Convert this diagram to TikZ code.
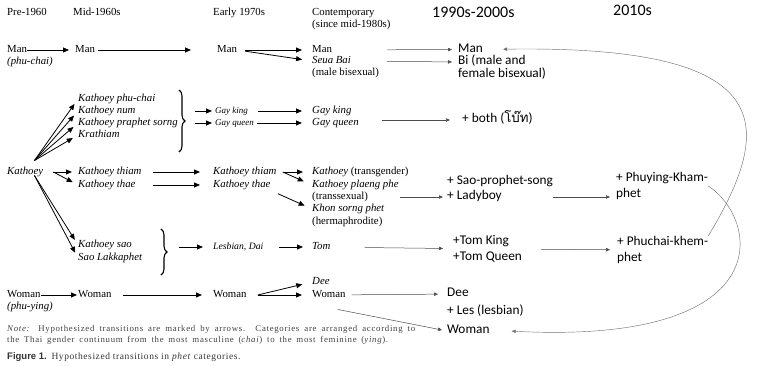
\documentclass[tikz,border=0pt]{standalone}
\usepackage{fontspec}
\setmainfont{Liberation Serif}
\setsansfont{Liberation Sans}
\newfontfamily\modfont{Carlito}
\newfontfamily\thaifont[Script=Thai]{Loma}
\newfontfamily\notefont[LetterSpace=6]{Liberation Serif}
\newfontfamily\notewidefont[LetterSpace=8]{Liberation Serif}
\usetikzlibrary{arrows.meta,positioning,decorations.pathreplacing}

\begin{document}
\begin{tikzpicture}[x=1pt,y=-1pt,
  lbl/.style={anchor=west, inner sep=0pt, text height=8pt, text depth=2.5pt, font=\fontsize{10.8}{13}\selectfont},
  ilbl/.style={lbl, font=\fontsize{10.8}{13}\selectfont\itshape},
  sml/.style={font=\fontsize{9}{11}\selectfont\itshape},
  mlbl/.style={anchor=west, inner sep=0pt, text height=9pt, text depth=3pt, font=\modfont\fontsize{13.3}{16.5}\selectfont},
  mlbltwo/.style={anchor=west, inner sep=0pt, align=left, font=\modfont\fontsize{13.3}{16.5}\selectfont},
  mhdr/.style={mlbl, font=\modfont\fontsize{16}{19}\selectfont},
  curly/.style={decorate, decoration={brace, amplitude=6pt, aspect=.5}, line width=1.1pt},
  notetxt/.style={anchor=west, inner sep=0pt, text=black!75, font=\notewidefont\fontsize{8.8}{10}\selectfont},
  arr/.style={-{Triangle[length=6pt,width=5pt]}, line width=.8pt},
  marr/.style={-{Triangle[length=4pt,width=3.4pt]}, line width=.5pt, black!70},
  loop/.style={-{Triangle[length=4pt,width=3.4pt]}, line width=.45pt, black!55}]
\useasboundingbox (0,0) rectangle (758,366);

% headers
\node[lbl]  (hpre)   at (7,13)   {Pre-1960};
\node[lbl]  (hmid)   at (73,13)  {Mid-1960s};
\node[lbl]  (hearly) at (213,13) {Early 1970s};
\node[lbl]  (hcon)   at (312,13) {Contemporary};
\node[lbl]  (hcon2)  at (312,25) {(since mid-1980s)};
\node[mhdr] (hnew)   at (432,15) {1990s-2000s};
\node[mhdr] (hlast)  at (613,13) {2010s};

% man
\node[lbl]  (preman)   at (7,50)   {Man};
\node[ilbl] (prechai)  at (7,62)   {(phu-chai)};
\node[lbl]  (midman)   at (75,50)  {Man};
\node[lbl]  (earlyman) at (217,50) {Man};
\node[lbl]  (conman)   at (312,50) {Man};
\node[ilbl] (conseua)  at (312,61) {Seua Bai};
\node[lbl]  (conbisex) at (312,73) {(male bisexual)};
\node[mlbl] (newman)   at (458,49.5) {Man};
\node[mlbl] (newbi)    at (458,62) {Bi (male and};
\node[mlbl] (newbi2)   at (458,75) {female bisexual)};

% kathoey, upper group
\node[ilbl] (kpc)   at (78,99)  {Kathoey phu-chai};
\node[ilbl] (knum)  at (78,111) {Kathoey num};
\node[ilbl] (kps)   at (78,123) {Kathoey praphet sorng};
\node[ilbl] (krath) at (78,135) {Krathiam};
\coordinate (brace1top) at (179,90);
\coordinate (brace1bot) at (179,152);
\coordinate (brace1)    at (185,121);
\node[ilbl, sml] (egk) at (215,111) {Gay king};
\node[ilbl, sml] (egq) at (215,123) {Gay queen};
\node[ilbl] (cgk)   at (312,111) {Gay king};
\node[ilbl] (cgq)   at (312,123) {Gay queen};
\node[mlbl] (newboth) at (462,120) {+ both ({\thaifont โบ๊ท})};

% kathoey, middle group
\node[ilbl] (kath)    at (7,172)   {Kathoey};
\node[ilbl] (mthiam)  at (78,172)  {Kathoey thiam};
\node[ilbl] (mthae)   at (78,185)  {Kathoey thae};
\node[ilbl] (ethiam)  at (213,172) {Kathoey thiam};
\node[ilbl] (ethae)   at (213,185) {Kathoey thae};
\node[lbl]  (ctrans)  at (312,172) {\textit{Kathoey} (transgender)};
\node[ilbl] (cplaeng) at (312,185) {Kathoey plaeng phe};
\node[lbl]  (ctsex)   at (312,197) {(transsexual)};
\node[ilbl] (ckhon)   at (312,209) {Khon sorng phet};
\node[lbl]  (cherm)   at (312,222) {(hermaphrodite)};
\node[mlbl] (newsao)  at (447,182) {+ Sao-prophet-song};
\node[mlbl] (newlady) at (447,197) {+ Ladyboy};
\node[mlbltwo] (newying) at (616,186) {+ Phuying-Kham-\\phet};

% kathoey, lower group
\node[ilbl] (ksao)  at (78,245)  {Kathoey sao};
\node[ilbl] (klak)  at (78,258)  {Sao Lakkaphet};
\coordinate (brace2top) at (161,229);
\coordinate (brace2bot) at (161,275);
\coordinate (brace2)    at (167,252);
\node[ilbl, font=\fontsize{9.7}{12}\selectfont\itshape] (elesb) at (213,247) {Lesbian, Dai};
\node[ilbl] (ctom)  at (312,247) {Tom};
\node[mlbltwo] (newtom)  at (453,249) {+Tom King\\+Tom Queen};
\node[mlbltwo] (newchai) at (617,250) {+ Phuchai-khem-\\phet};

% woman
\node[lbl]  (prewoman)   at (7,295)   {Woman};
\node[ilbl] (preying)    at (7,307)   {(phu-ying)};
\node[lbl]  (midwoman)   at (78,295)  {Woman};
\node[lbl]  (earlywoman) at (213,295) {Woman};
\node[ilbl] (condee)     at (312,282) {Dee};
\node[lbl]  (conwoman)   at (312,295) {Woman};
\node[mlbl] (newdee)     at (447,294) {Dee};
\node[mlbl] (newles)     at (447,311) {+ Les (lesbian)};
\node[mlbl] (newwoman)   at (447,330) {Woman};

% note and caption
\node[notetxt] (note)  at (7,329) {\makebox[408pt][s]{\textit{Note:} Hypothesized transitions are marked by arrows. Categories are arranged according to}};
\node[notetxt] (note2) at (7,340) {\makebox[381pt][s]{the Thai gender continuum from the most masculine (\textit{chai}) to the most feminine (\textit{ying}).}};
\node[notetxt, text=black!80, font=\notefont\fontsize{9.5}{11}\selectfont] (caption) at (7,357) {{\sffamily\bfseries Figure 1.}\enspace Hypothesized transitions in \textit{phet} categories.};

\coordinate (kathup)    at ([xshift=-9pt,yshift=6pt]kath.north east);
\coordinate (kathdown)  at ([xshift=-9pt,yshift=2pt]kath.south east);
\coordinate (kathmid)   at ([xshift=10pt]kath.east);
\coordinate (ethiamend) at ([xshift=6pt]ethiam.east);
\coordinate (ewomanend) at ([xshift=11pt]earlywoman.east);

% braces
\draw[curly] (brace1top) -- (brace1bot);
\draw[curly] (brace2top) -- (brace2bot);

% Edges
\draw[arr, shorten >=6pt] (preman) -- (midman);
\draw[arr, shorten <=3pt, shorten >=26pt] (midman) -- (earlyman);
\draw[arr, shorten <=8pt, shorten >=10pt] (earlyman) -- (conman);
\draw[arr, shorten <=8pt, shorten >=10pt] (earlyman.east) -- (conseua.west);
\draw[marr, shorten <=55pt, shorten >=6pt] (conman) -- (newman);
\draw[marr, shorten <=36pt, shorten >=6pt] (conseua.east) -- (newbi.west);

\foreach \t in {kpc,knum,kps,krath}
  \draw[arr, shorten >=6pt] (kathup) -- (\t.west);
\foreach \t in {mthiam,mthae}
  \draw[arr, shorten >=6pt] (kathmid) -- (\t.west);
\foreach \t in {ksao,klak}
  \draw[arr, shorten >=6pt] (kathdown) -- (\t.west);

\draw[arr, shorten <=10pt, shorten >=3pt] (brace1 |- egk) -- (egk);
\draw[arr, shorten <=10pt, shorten >=3pt] (brace1 |- egq) -- (egq);
\draw[arr, shorten <=10pt, shorten >=10pt] (egk) -- (cgk);
\draw[arr, shorten <=3pt, shorten >=10pt] (egq) -- (cgq);
\draw[marr, shorten <=23pt, shorten >=12pt] (cgq.east |- newboth) -- (newboth);

\draw[arr, shorten <=11pt, shorten >=13pt] (mthiam) -- (ethiam);
\draw[arr, shorten <=17pt, shorten >=13pt] (mthae) -- (ethae);
\draw[arr, shorten >=9pt] (ethiamend) -- (ctrans.west);
\draw[arr, shorten >=9pt] (ethiamend) -- (cplaeng.west);
\draw[arr, shorten <=8pt, shorten >=8pt] (ethae.south east) -- (ckhon.west);
\draw[marr, shorten <=32pt, shorten >=4pt] (ctsex) -- (newlady);
\draw[marr, shorten <=51pt, shorten >=6pt] (newlady) -- (newying.west |- newlady);

\draw[arr, shorten <=12pt, shorten >=10pt] (brace2 |- elesb) -- (elesb);
\draw[arr, shorten <=15pt, shorten >=9pt] (elesb) -- (ctom);
\draw[marr, shorten <=34pt, shorten >=10pt] (ctom) -- (newtom);
\draw[marr, shorten <=19pt, shorten >=7pt] (newtom) -- (newchai);

\draw[arr, shorten >=1pt] (prewoman) -- (midwoman);
\draw[arr, shorten <=11pt, shorten >=11pt] (midwoman) -- (earlywoman);
\draw[arr, shorten >=10pt] (ewomanend) -- (condee.west);
\draw[arr, shorten >=10pt] (ewomanend) -- (conwoman.west);
\draw[marr, shorten <=6pt, shorten >=9pt] (conwoman) -- (newdee);
\draw[marr] ([shift={(-8pt,-9pt)}]conwoman.south east) -- ([xshift=-5pt]newwoman.west);

% returns of the 2010s
\draw[loop, shorten >=20pt] (newchai.north east) .. controls (775,125) and (780,45) .. (newman.east);
\draw[loop, shorten >=22pt] (newying.east) .. controls (760,220) and (780,345) .. (newwoman.east);
\end{tikzpicture}
\end{document}
